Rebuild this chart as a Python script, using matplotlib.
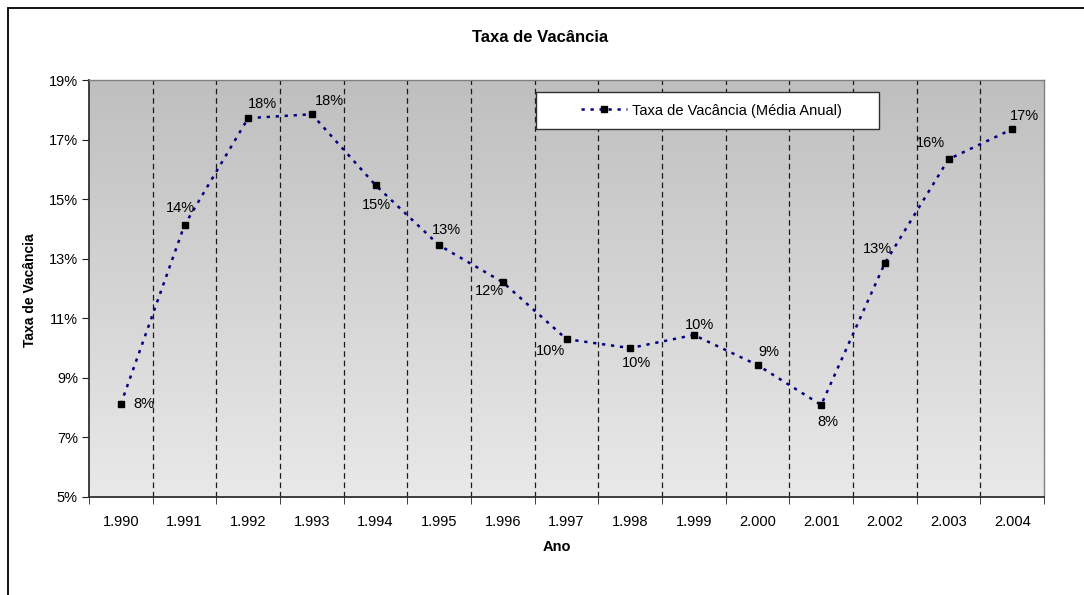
import matplotlib
matplotlib.use("Agg")
import matplotlib.pyplot as plt
import numpy as np
from matplotlib.patches import Rectangle
from matplotlib.colors import LinearSegmentedColormap

plt.rcParams['font.family'] = ['Liberation Sans', 'DejaVu Sans']

# dados
anos = ["1.990", "1.991", "1.992", "1.993", "1.994", "1.995", "1.996", "1.997",
        "1.998", "1.999", "2.000", "2.001", "2.002", "2.003", "2.004"]
taxa = [8.12, 14.13, 17.72, 17.85, 15.47, 13.45, 12.21, 10.30,
        10.00, 10.44, 9.43, 8.09, 12.85, 16.34, 17.35]
yticks = [5, 7, 9, 11, 13, 15, 17, 19]

# posicao dos rotulos (pixels em relacao ao marcador)
desloc = [(23, 0), (-4, 17), (14, 14), (18, 13), (1, -20), (7, 15), (-13, -9), (-16, -12),
          (6, -15), (6, 10), (11, 13), (7, -17), (-7, 14), (-18, 16), (12, 13)]

fig = plt.figure(figsize=(10.84, 5.95), dpi=100)
ax = fig.add_axes([89/1084, 1-497/595, (1044-89)/1084, (497-80)/595])

x = np.arange(len(anos))
ax.set_xlim(-0.5, len(anos)-0.5)
ax.set_ylim(5, 19)

# fundo em degrade
cmap = LinearSegmentedColormap.from_list("cinza", ["#e9e9e9", "#bfbfbf"])
grad = np.linspace(0, 1, 256).reshape(-1, 1)
ax.imshow(grad, extent=[-0.5, len(anos)-0.5, 5, 19], origin='lower', aspect='auto',
          cmap=cmap, zorder=0)

for b in np.arange(0.5, len(anos)-0.5, 1):
    ax.axvline(b, color='#1a1a1a', lw=0.9, dashes=(4.5, 3.0), zorder=1)

ax.plot(x, taxa, color='#000080', lw=1.8, linestyle=(0, (1.3, 2.3)),
        marker='s', markersize=4.5, markerfacecolor='black', markeredgecolor='black',
        label='Taxa de Vacância (Média Anual)', zorder=3)

for xi, v, (dx, dy) in zip(x, taxa, desloc):
    ax.annotate(f"{v:.0f}%", (xi, v), xytext=(dx, dy), textcoords='offset pixels',
                ha='center', va='center', fontsize=10.5, zorder=4)

ax.set_yticks(yticks)
ax.set_yticklabels([f"{t}%" for t in yticks], fontsize=10.5)
ax.set_xticks(x)
ax.set_xticklabels(anos, fontsize=10.5)
ax.set_xticks(np.arange(-0.5, len(anos), 1), minor=True)
ax.tick_params(axis='x', which='major', length=0, pad=13)
ax.tick_params(axis='x', which='minor', length=5, direction='out', color='#202020')
ax.tick_params(axis='y', length=5, direction='out', color='#202020', pad=3)

for s in ['left', 'bottom']:
    ax.spines[s].set_color('#303030')
    ax.spines[s].set_linewidth(1.3)
for s in ['top', 'right']:
    ax.spines[s].set_color('#808080')
    ax.spines[s].set_linewidth(1.0)

# caixa da legenda
ax.add_patch(Rectangle((447/955, (497-129)/417), 343/955, 37/417, transform=ax.transAxes,
                       facecolor='white', edgecolor='#303030', lw=1.0, zorder=5))
leg = ax.legend(loc='center', bbox_to_anchor=((711-89)/955, (497-110.5)/417),
                frameon=False, fontsize=10.5, handlelength=3.2, handletextpad=0.3)
leg.set_zorder(6)

fig.text(540/1084, 1-37/595, "Taxa de Vacância", ha='center', va='center',
         fontsize=12, fontweight='bold')
fig.text(30/1084, 1-290/595, "Taxa de Vacância", ha='center', va='center',
         rotation=90, fontsize=10, fontweight='bold')
fig.text(557/1084, 1-547/595, "Ano", ha='center', va='center',
         fontsize=10.5, fontweight='bold')

# moldura externa
fig.patches.append(Rectangle((8/1084, -0.05), 1.1, 1-8/595+0.05, transform=fig.transFigure,
                             fill=False, edgecolor='black', lw=1.3))

fig.savefig("out.png", dpi=100)
